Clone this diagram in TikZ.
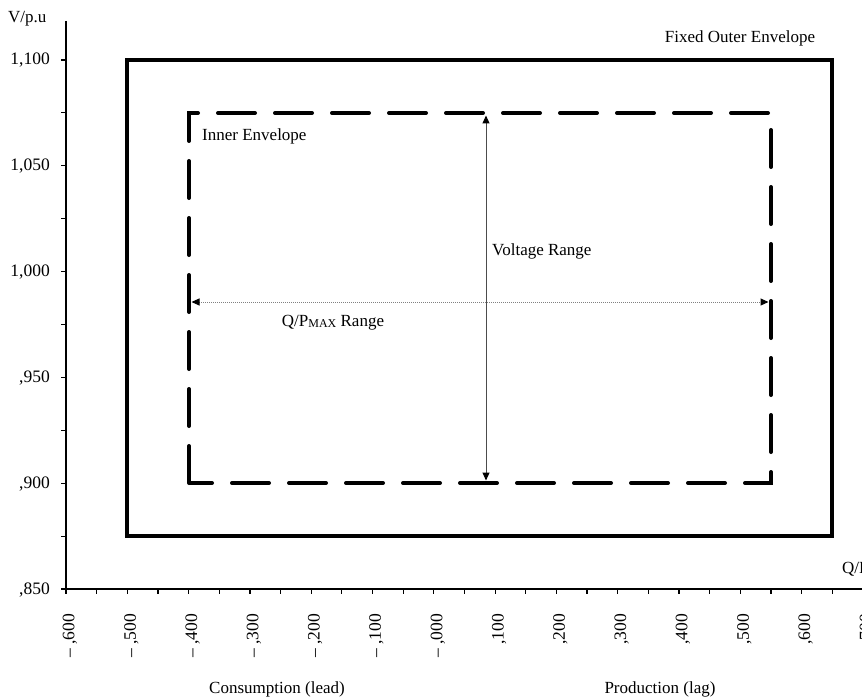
\documentclass[tikz,border=0pt]{standalone}
\usepackage{fontspec}
\setmainfont{Liberation Serif}
\usetikzlibrary{arrows.meta}
\begin{document}
\begin{tikzpicture}[x=1pt,y=-1pt,
  lbl/.style={inner sep=0pt,font=\fontsize{17}{17}\selectfont,text=black},
  ticklbl/.style={inner sep=0pt,font=\fontsize{17.5}{17.5}\selectfont,text=black},
  axisline/.style={line width=1.6pt,black},
  tickmark/.style={line width=1.2pt,black},
  outerbox/.style={line width=4pt,black,line join=miter},
  innerbox/.style={line width=4pt,black,line cap=round,dash pattern=on 37pt off 20pt},
  rangearrow/.style={line width=1pt,black!70,{Triangle[length=8pt,width=7pt,black]}-{Triangle[length=8pt,width=7pt,black]}},
  rangedots/.style={line width=1pt,black!50,dash pattern=on 1pt off 1pt,{Triangle[length=8pt,width=7pt,black]}-{Triangle[length=8pt,width=7pt,black]}}]
\path[use as bounding box] (0,0) rectangle (862,698);

% axes
\coordinate (ytop) at (66,21);
\coordinate (orig) at (66,589);
\coordinate (xend) at (870,589);
\draw[axisline] (ytop) -- (orig) -- (xend);

% y ticks
\foreach \i in {0,...,10}{
  \draw[tickmark] (61,{60+52.9*\i}) -- (66,{60+52.9*\i});
}
\foreach \v/\t in {0/{1,100},1/{1,050},2/{1,000},3/{,950},4/{,900},5/{,850}}{
  \node[ticklbl,anchor=base east] (yl\v) at (50,{65+105.8*\v}) {\t};
}
% x ticks
\foreach \i in {0,...,26}{
  \draw[tickmark] ({66+30.65*\i},589) -- ({66+30.65*\i},594);
}
\foreach \k/\t in {0/{– ,600},1/{– ,500},2/{– ,400},3/{– ,300},4/{– ,200},5/{– ,100},6/{– ,000},7/{,100},8/{,200},9/{,300},10/{,400},11/{,500},12/{,600},13/{,700}}{
  \node[ticklbl,rotate=90,anchor=east] (xl\k) at ({70+61.3*\k},614) {\t};
}

% axis titles
\node[lbl,anchor=base west] (vpu) at (8,23) {V/p.u};
\node[lbl,anchor=base west] (qp) at (842,573) {Q/P\raisebox{-1.5pt}{\fontsize{12}{12}\selectfont MAX}};
\node[lbl,anchor=base] (cons) at (277,693) {Consumption (lead)};
\node[lbl,anchor=base] (prod) at (660,693) {Production (lag)};

% envelopes
\draw[outerbox] (127.3,60) rectangle (832.2,536);
\draw[innerbox] (189,483) -- (189,113) -- (771,113) -- (771,483) -- cycle;

\node[lbl,anchor=base] (fixed) at (740,43) {Fixed Outer Envelope};
\node[lbl,anchor=base west] (inner) at (202,140.5) {Inner Envelope};

% range arrows
\coordinate (vtop) at (486,115.5);
\coordinate (vbot) at (486,480.5);
\coordinate (hl) at (191.5,302);
\coordinate (hr) at (768.5,302);
\draw[rangearrow] (vtop) -- (vbot);
\draw[rangedots] (hl) -- (hr);

\node[lbl,anchor=base west] (vr) at (492,255) {Voltage Range};
\node[lbl,anchor=base] (qr) at (333,326) {Q/P\raisebox{-1.5pt}{\fontsize{12}{12}\selectfont MAX} Range};
\end{tikzpicture}
\end{document}
